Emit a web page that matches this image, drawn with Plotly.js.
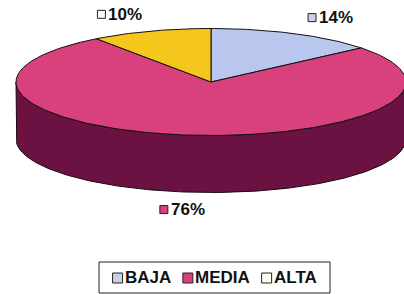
<!DOCTYPE html>
<html>
<head>
<meta charset="utf-8">
<script src="https://cdn.plot.ly/plotly-3.0.1.min.js"></script>
<style>html,body{margin:0;padding:0;background:#fff;}#chart{width:404px;height:294px;}</style>
</head>
<body>
<div id="chart"></div>
<script>
// ---- data ----
const categories = ['BAJA', 'MEDIA', 'ALTA'];
const values = [14, 76, 10];
const valueLabels = ['14%', '76%', '10%'];

// ---- styles ----
const topColors = ['#B9C7EE', '#D9417D', '#F5C61C'];
const sideColors = ['#5E6A9C', '#6C1242', '#9E7E0C'];
const keyColors = ['#CBD0E8', '#D9417D', '#FDFCF0'];
const FONT = 'Liberation Sans, Arial, sans-serif';

// ---- geometry (pixels) ----
const W = 404, H = 294;
const cx = 211, cy = 82, a = 195, b = 53.5, depth = 57;
const total = values.reduce((s, v) => s + v, 0);
const rad = d => d * Math.PI / 180;
const pt = (deg, dy) => [cx + a * Math.sin(rad(deg)), cy - b * Math.cos(rad(deg)) + (dy || 0)];

function arc(s, e, dy) {
  const pts = [];
  const n = Math.max(2, Math.ceil(Math.abs(e - s)));
  for (let i = 0; i <= n; i++) pts.push(pt(s + (e - s) * i / n, dy));
  return pts;
}

const sideTraces = [];
const topTraces = [];
let acc = 0;
const slices = values.map((v, i) => {
  const s = acc / total * 360;
  acc += v;
  const e = acc / total * 360;
  return {s, e, i};
});

slices.forEach(({s, e, i}) => {
  const vs = Math.max(s, 90), ve = Math.min(e, 270);
  if (ve > vs) {
    const pts = arc(vs, ve, 0).concat(arc(ve, vs, depth));
    pts.push(pts[0]);
    sideTraces.push({
      type: 'scatter', mode: 'lines', fill: 'toself',
      x: pts.map(p => p[0]), y: pts.map(p => p[1]),
      fillcolor: sideColors[i], line: {color: '#1a0a12', width: 1},
      showlegend: false, hoverinfo: 'skip'
    });
  }
  const pts = [[cx, cy]].concat(arc(s, e, 0));
  pts.push([cx, cy]);
  topTraces.push({
    type: 'scatter', mode: 'lines', fill: 'toself',
    x: pts.map(p => p[0]), y: pts.map(p => p[1]),
    fillcolor: topColors[i], line: {color: '#111', width: 1},
    showlegend: false, hoverinfo: 'skip', name: categories[i]
  });
});

// data labels (box + text) positioned outside each slice
const labelX = [], labelY = [];
const annotations = [];
slices.forEach(({s, e, i}) => {
  const m = (s + e) / 2;
  const c = Math.cos(rad(m));
  let gx = cx + 1.47 * a * Math.sin(rad(m));
  if (c < 0) gx = cx + 1.07 * a * Math.sin(rad(m));
  const gy = cy - 1.33 * b * c + (c < 0 ? depth : 0);
  const bx = gx - 21;
  labelX.push(bx); labelY.push(gy);
  annotations.push({
    x: bx + 5, y: gy, xref: 'x', yref: 'y', xanchor: 'left', yanchor: 'middle',
    text: '<b>' + valueLabels[i] + '</b>', showarrow: false,
    font: {family: FONT, size: 17, color: '#111'}
  });
});
const labelBoxes = {
  type: 'scatter', mode: 'markers', x: labelX, y: labelY,
  marker: {symbol: 'square', size: 8, color: keyColors, line: {color: '#222', width: 1}},
  showlegend: false, hoverinfo: 'skip'
};

// ---- legend (drawn as a boxed row of keys + names) ----
const ctx = document.createElement('canvas').getContext('2d');
ctx.font = 'bold 17px "Liberation Sans", Arial, sans-serif';
const keySize = 10, keyGap = 2, itemGap = 12;
const legL = 99, legR = 330, legT = 262, legB = 293, legMid = 277;
const widths = categories.map(c => keySize + keyGap + ctx.measureText(c).width);
const rowW = widths.reduce((s, w) => s + w, 0) + itemGap * (categories.length - 1);
let lx = (legL + legR) / 2 - rowW / 2;
const shapes = [{
  type: 'rect', xref: 'x', yref: 'y', x0: legL, x1: legR, y0: legT, y1: legB,
  line: {color: '#222', width: 1}, fillcolor: 'rgba(0,0,0,0)'
}];
categories.forEach((c, i) => {
  shapes.push({
    type: 'rect', xref: 'x', yref: 'y', x0: lx, x1: lx + keySize,
    y0: legMid - keySize / 2 + 1, y1: legMid + keySize / 2 + 1,
    line: {color: '#222', width: 1}, fillcolor: keyColors[i]
  });
  annotations.push({
    x: lx + keySize + keyGap, y: legMid, xref: 'x', yref: 'y', xanchor: 'left', yanchor: 'middle',
    text: '<b>' + c + '</b>', showarrow: false, xshift: -1,
    font: {family: FONT, size: 17, color: '#111'}, borderpad: 0
  });
  lx += widths[i] + itemGap;
});

const data = sideTraces.concat(topTraces, [labelBoxes]);

const layout = {
  width: W, height: H,
  margin: {l: 0, r: 0, t: 0, b: 0},
  paper_bgcolor: '#fff', plot_bgcolor: '#fff',
  xaxis: {range: [0, W], visible: false, fixedrange: true},
  yaxis: {range: [H, 0], visible: false, fixedrange: true},
  showlegend: false,
  shapes: shapes,
  annotations: annotations
};

Plotly.newPlot('chart', data, layout, {displayModeBar: false, staticPlot: true});
</script>
</body>
</html>
